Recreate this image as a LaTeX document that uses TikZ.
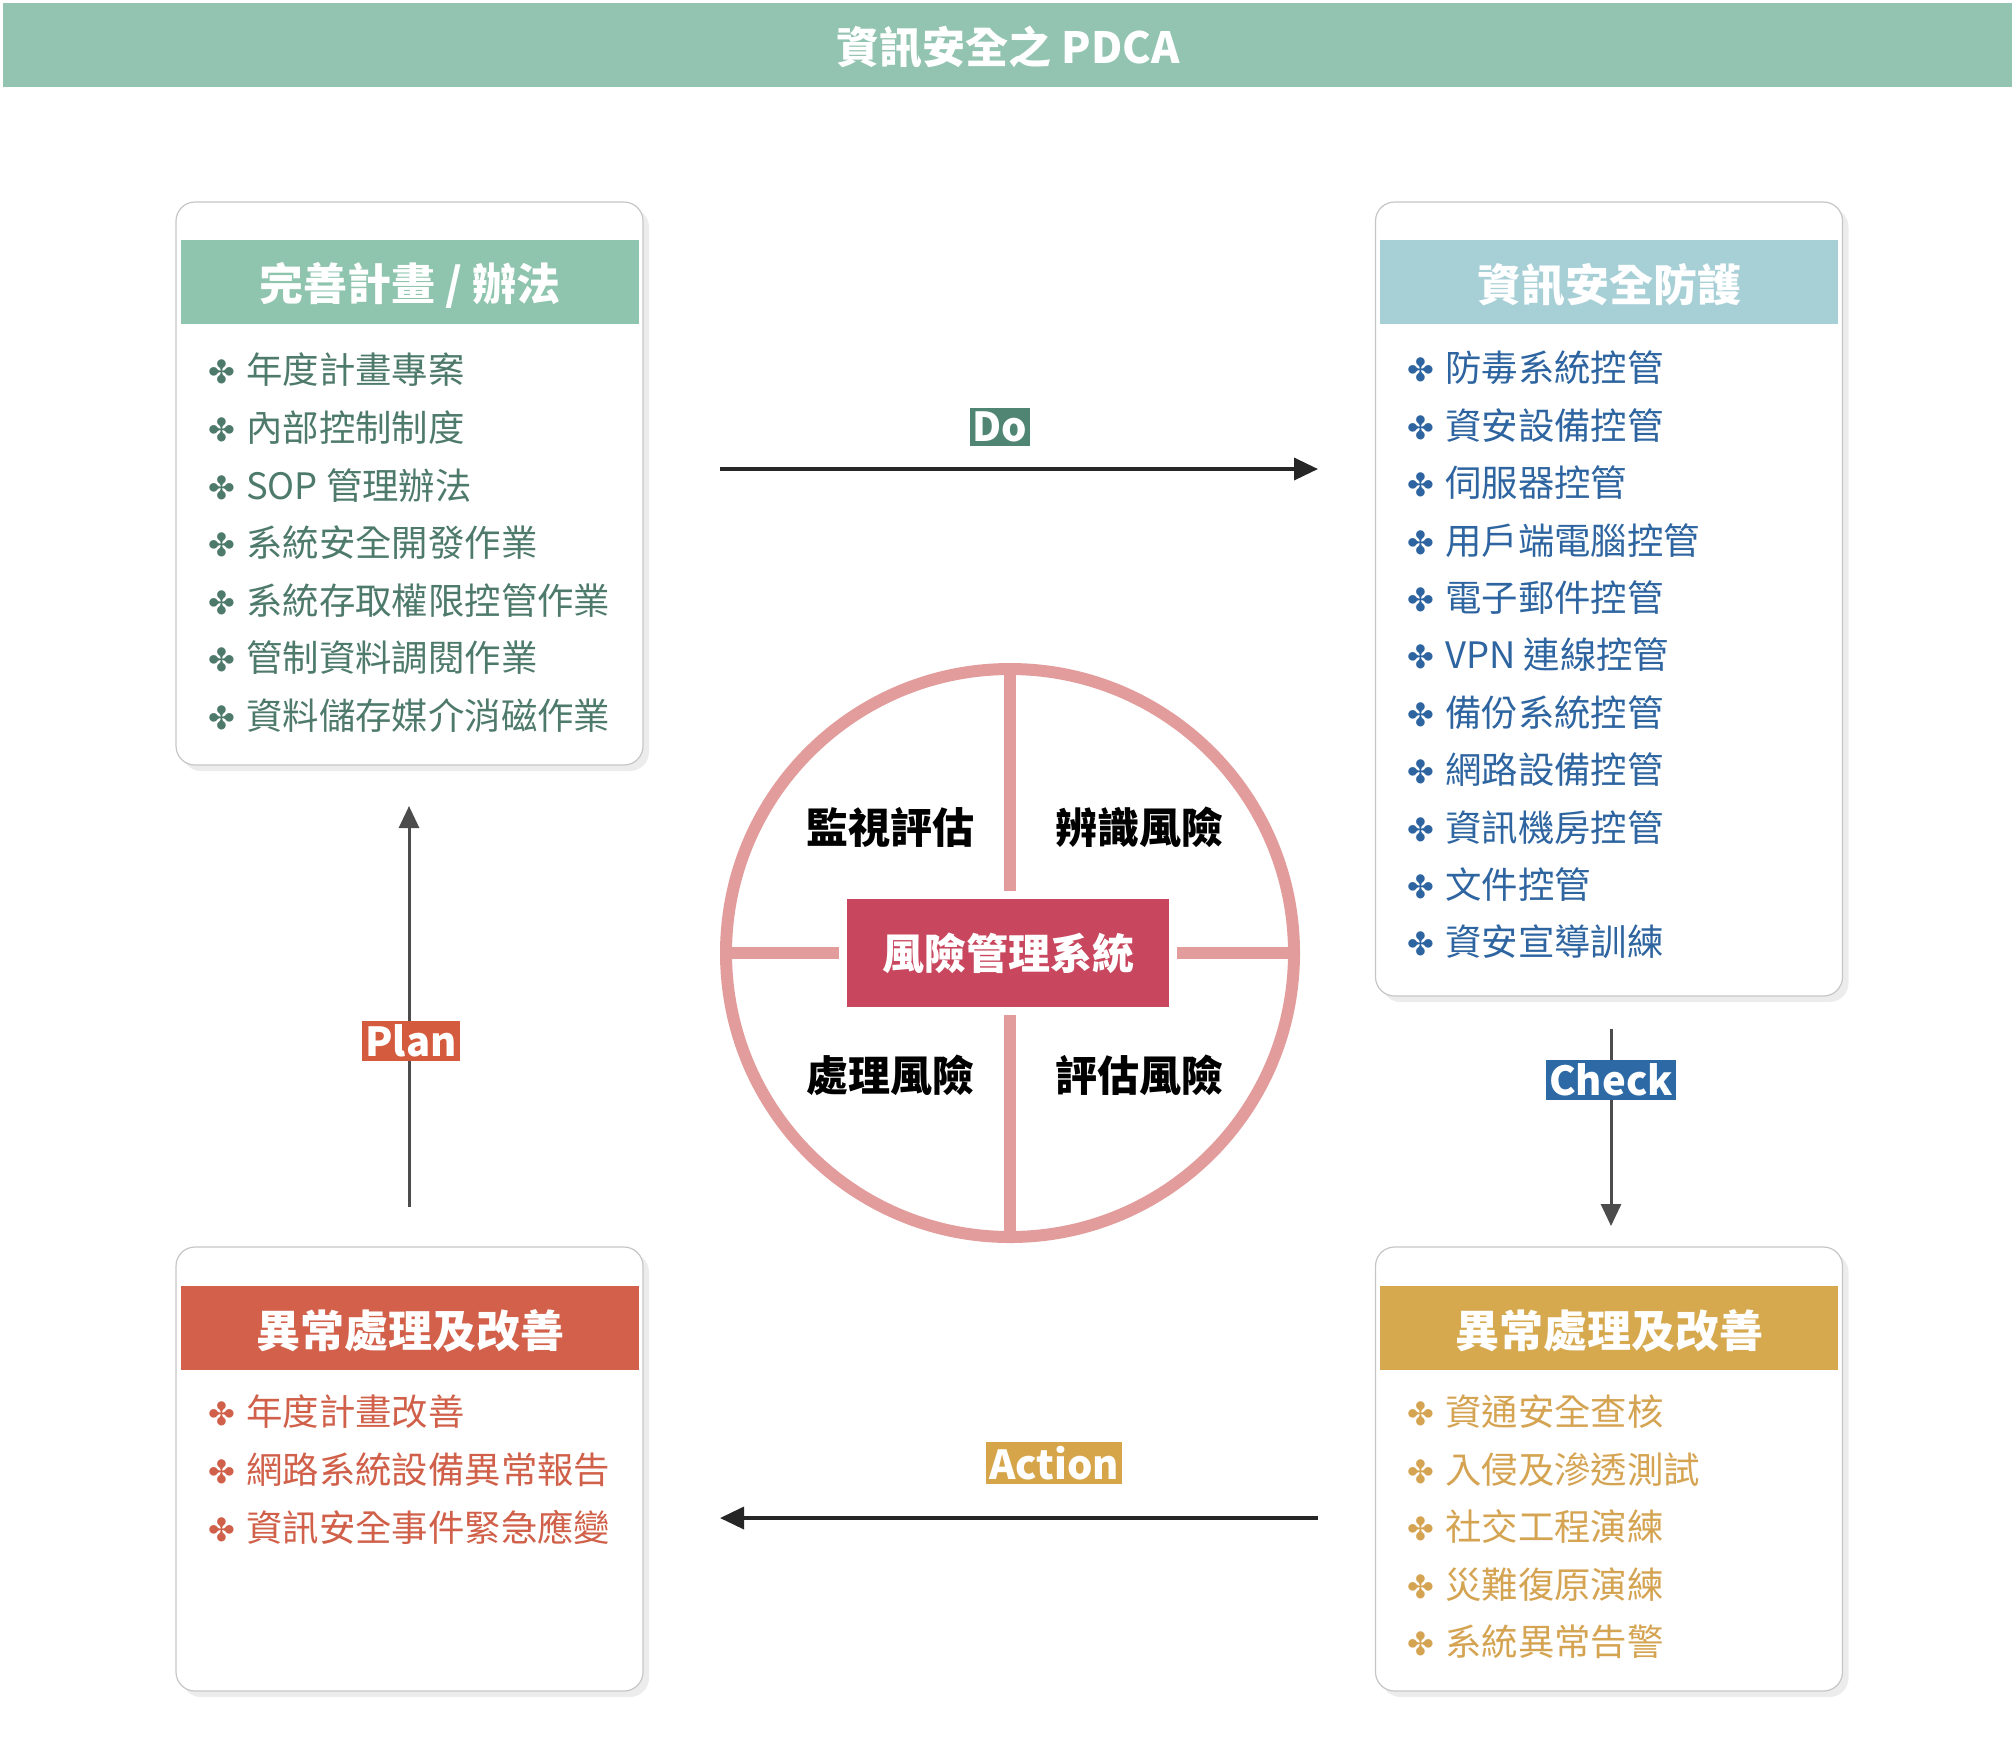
\documentclass[tikz,border=0pt]{standalone}
\usepackage{fontspec}
\setmainfont{Noto Sans CJK TC}
\newfontfamily\bulletfont{DejaVu Sans}
\usepackage{xcolor}
\usetikzlibrary{shadows,arrows.meta}

\definecolor{barc}{HTML}{93C4B1}
\definecolor{planhead}{HTML}{8FC4AE}
\definecolor{plantext}{HTML}{4E7A6B}
\definecolor{dohead}{HTML}{A7CFD6}
\definecolor{dotext}{HTML}{2E65A0}
\definecolor{acthead}{HTML}{D2604A}
\definecolor{acttext}{HTML}{D06049}
\definecolor{checkhead}{HTML}{D6A94F}
\definecolor{checktext}{HTML}{D5A453}
\definecolor{dotag}{HTML}{4F8572}
\definecolor{checktag}{HTML}{2C69A5}
\definecolor{actiontag}{HTML}{D6A54A}
\definecolor{plantag}{HTML}{D55B3E}
\definecolor{ringc}{HTML}{E39C9C}
\definecolor{corec}{HTML}{C8475E}

\tikzset{
  card/.style={draw=gray!45, line width=0.6pt, rounded corners=9.5pt, fill=white,
    minimum width=233.5pt, drop shadow={shadow xshift=3pt, shadow yshift=-3pt, opacity=0.15}},
  head/.style={minimum width=229pt, minimum height=42pt, inner sep=0pt, text=white,
    font=\fontsize{22}{24}\selectfont\bfseries},
  headtext/.style={yshift=-1.5pt, text=white, font=\fontsize{22}{24}\selectfont\bfseries},
  item/.style={anchor=west, inner sep=0pt, font=\fontsize{18.2}{20}\selectfont},
  tag/.style={text=white, inner xsep=1.5pt, inner ysep=2pt, font=\fontsize{20}{22}\selectfont\bfseries},
  quad/.style={font=\fontsize{21}{24}\selectfont\bfseries},
  flow/.style={line width=1.8pt, black!85, -{Triangle[length=12pt,width=11pt]}},
  vflow/.style={line width=1.5pt, black!70, -{Triangle[length=11pt,width=10pt]}},
}
\newcommand{\bul}{{\bulletfont\fontsize{16}{16}\selectfont ✤}\hspace{5.5pt}}

\begin{document}
\begin{tikzpicture}[x=0.5pt, y=-0.5pt]
    \useasboundingbox (0,0) rectangle (2016,1742);

    % Title bar
    \node[fill=barc, minimum width=1004.5pt, minimum height=42pt] (title) at (1007.5,45) {};
    \node[text=white, font=\fontsize{21.5}{24}\selectfont\bfseries] (title-text) at (1008,47) {資訊安全之 PDCA};

    % Cards
    \node[card, minimum height=281.5pt] (plan) at (409.5,483.5) {};
    \node[card, minimum height=397pt] (do) at (1609,599) {};
    \node[card, minimum height=222pt] (act) at (409.5,1469) {};
    \node[card, minimum height=222pt] (check) at (1609,1469) {};

    % Card headers
    \node[head, fill=planhead] (plan-head) at (410,282) {};
    \node[head, fill=dohead] (do-head) at (1609,282) {};
    \node[head, fill=acthead] (act-head) at (410,1328) {};
    \node[head, fill=checkhead] (check-head) at (1609,1328) {};
    \node[headtext] at (plan-head) {完善計畫 / 辦法};
    \node[headtext] at (do-head) {資訊安全防護};
    \node[headtext] at (act-head) {異常處理及改善};
    \node[headtext] at (check-head) {異常處理及改善};

    % Card items
    \foreach \t [count=\i] in {年度計畫專案, 內部控制制度, SOP 管理辦法, 系統安全開發作業,
        系統存取權限控管作業, 管制資料調閱作業, 資料儲存媒介消磁作業}
        \node[item, text=plantext] (plan-\i) at (208,{370+57.6*(\i-1)}) {\bul\t};
    \foreach \t [count=\i] in {防毒系統控管, 資安設備控管, 伺服器控管, 用戶端電腦控管, 電子郵件控管,
        VPN 連線控管, 備份系統控管, 網路設備控管, 資訊機房控管, 文件控管, 資安宣導訓練}
        \node[item, text=dotext] (do-\i) at (1407,{368+57.4*(\i-1)}) {\bul\t};
    \foreach \t [count=\i] in {年度計畫改善, 網路系統設備異常報告, 資訊安全事件緊急應變}
        \node[item, text=acttext] (act-\i) at (208,{1412+57.5*(\i-1)}) {\bul\t};
    \foreach \t [count=\i] in {資通安全查核, 入侵及滲透測試, 社交工程演練, 災難復原演練, 系統異常告警}
        \node[item, text=checktext] (check-\i) at (1407,{1412+57.5*(\i-1)}) {\bul\t};

    % Risk wheel
    \node[circle, draw=ringc, line width=6pt, minimum size=284pt] (ring) at (1010,953) {};
    \draw[ringc, line width=6pt] (ring.north) -- (ring.south);
    \draw[ringc, line width=6pt] (ring.west) -- (ring.east);
    \node[fill=corec, draw=white, line width=4pt, minimum width=165pt, minimum height=58pt,
        text=white, font=\fontsize{21}{24}\selectfont\bfseries] (core) at (1008,953) {風險管理系統};
    \node[quad] (monitor) at (890,827) {監視評估};
    \node[quad] (identify) at (1139,827) {辨識風險};
    \node[quad] (treat) at (890,1075) {處理風險};
    \node[quad] (assess) at (1139,1075) {評估風險};

    % PDCA arrows
    \coordinate (do-s) at (720,469);
    \coordinate (do-e) at (1318,469);
    \draw[flow] (do-s) -- (do-e);
    \node[tag, fill=dotag] (do-tag) at (1000,427) {Do};

    \coordinate (check-s) at (1611,1029);
    \coordinate (check-e) at (1611,1226);
    \draw[vflow] (check-s) -- (check-e);
    \node[tag, fill=checktag] (check-tag) at (1611,1080) {Check};

    \coordinate (act-s) at (1318,1518);
    \coordinate (act-e) at (720,1518);
    \draw[flow] (act-s) -- (act-e);
    \node[tag, fill=actiontag] (act-tag) at (1054,1463) {Action};

    \coordinate (plan-s) at (409,1207);
    \coordinate (plan-e) at (409,806);
    \draw[vflow] (plan-s) -- (plan-e);
    \node[tag, fill=plantag] (plan-tag) at (411,1041) {Plan};
\end{tikzpicture}
\end{document}
